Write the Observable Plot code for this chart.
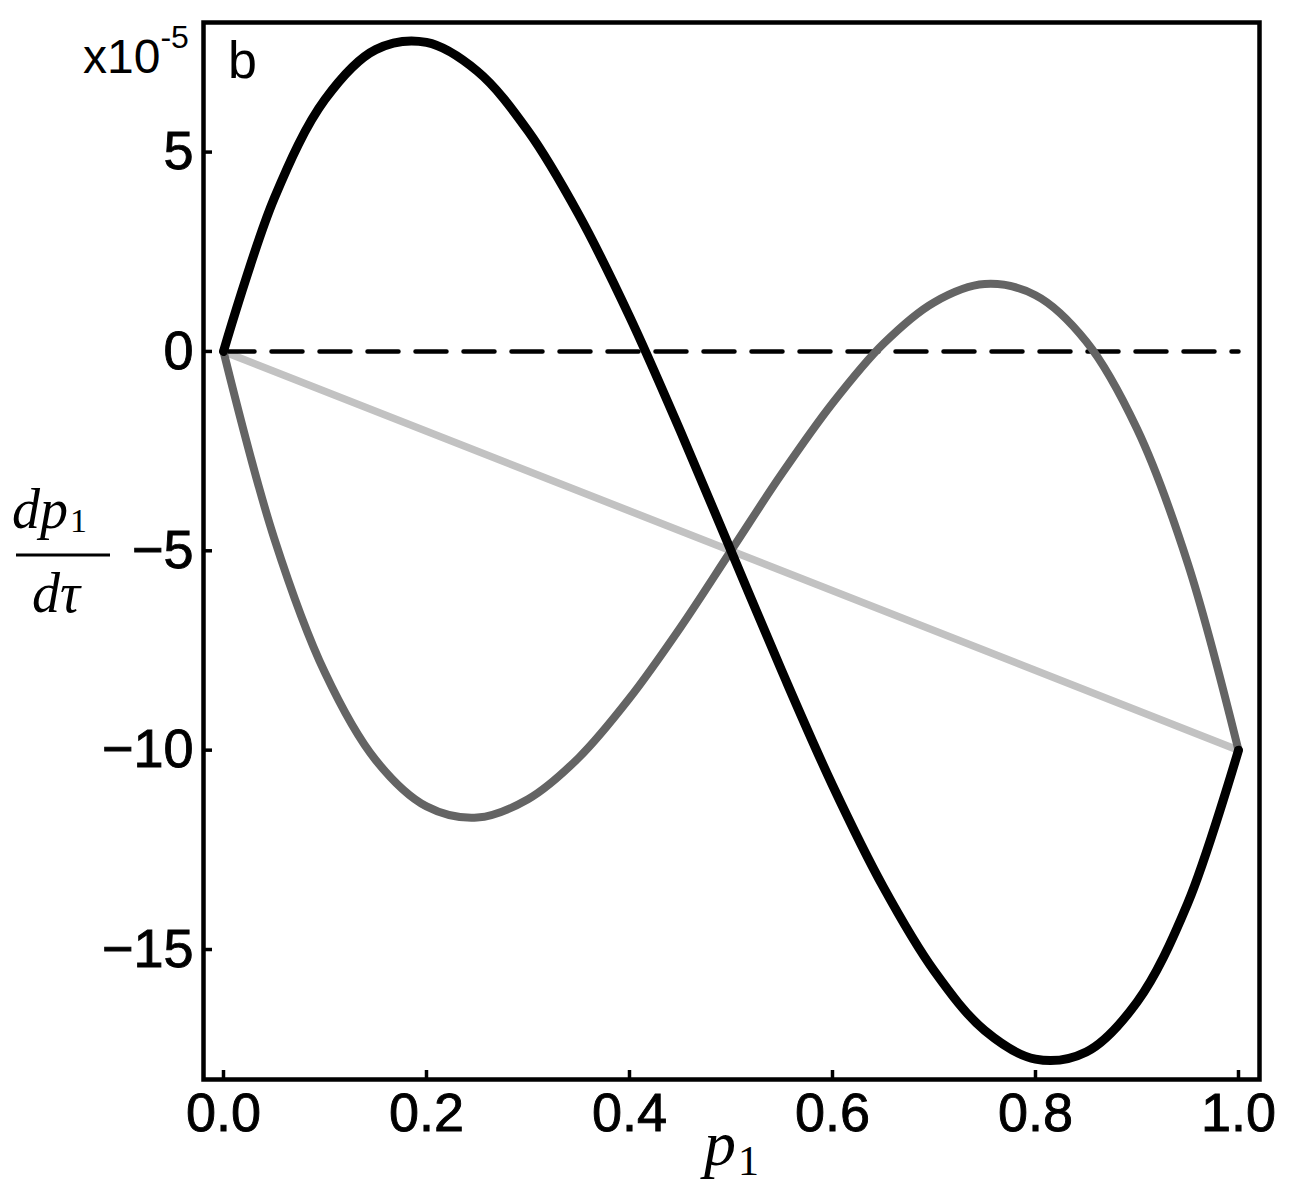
<!DOCTYPE html>
<html>
<head>
<meta charset="utf-8">
<script src="https://cdn.jsdelivr.net/npm/d3@7"></script>
<script src="https://cdn.jsdelivr.net/npm/@observablehq/plot@0.6"></script>
<style>
  html, body { margin: 0; padding: 0; background: #fff; }
  g[aria-label="x-axis tick label"] text,
  g[aria-label="y-axis tick label"] text { stroke: #000; stroke-width: 0.9px; }
</style>
</head>
<body>
<div id="chart"></div>
<script>
// ---- data ----
const pValues = [0, 0.05, 0.1, 0.15, 0.2, 0.25, 0.3, 0.35, 0.4, 0.45, 0.5,
                 0.55, 0.6, 0.65, 0.7, 0.75, 0.8, 0.85, 0.9, 0.95, 1.0];
const blackCurve = [0, 3.84, 6.32, 7.57, 7.75, 7.03, 5.53, 3.43, 0.88, -1.99, -5,
                    -8.01, -10.88, -13.43, -15.53, -17.03, -17.75, -17.57, -16.32, -13.84, -10];
const greyCurve = [0, -4.69, -8.06, -10.25, -11.41, -11.69, -11.23, -10.19, -8.70, -6.93, -5,
                   -3.07, -1.30, 0.19, 1.23, 1.69, 1.41, 0.25, -1.94, -5.31, -10];
const lightLineP = [0, 1];
const lightLine = [0, -10];
const zeroLineP = [0, 1];
const zeroLine = [0, 0];
const xTicks = [0, 0.2, 0.4, 0.6, 0.8, 1.0];
const yTicks = [5, 0, -5, -10, -15];

const toRows = (xs, ys) => xs.map((x, i) => ({x, y: ys[i]}));
const blackRows = toRows(pValues, blackCurve);
const greyRows = toRows(pValues, greyCurve);
const lightRows = toRows(lightLineP, lightLine);
const zeroRows = toRows(zeroLineP, zeroLine);

const W = 1291, H = 1200;
const mL = 203, mR = 32, mT = 22, mB = 121;
const innerW = W - mL - mR, innerH = H - mT - mB;

const chart = Plot.plot({
  width: W,
  height: H,
  marginLeft: mL,
  marginRight: mR,
  marginTop: mT,
  marginBottom: mB,
  style: {fontFamily: "'Liberation Sans', Arial, sans-serif", fontSize: "54px", background: "#fff", color: "#000"},
  x: {domain: [-0.0197, 1.0207]},
  y: {domain: [-18.26, 8.25]},
  marks: [
    Plot.line(lightRows, {x: "x", y: "y", stroke: "#c2c2c2", strokeWidth: 7.5}),
    Plot.line(zeroRows, {x: "x", y: "y", stroke: "#000", strokeWidth: 4.5, strokeDasharray: "31,17"}),
    Plot.line(greyRows, {x: "x", y: "y", stroke: "#646464", strokeWidth: 8, curve: "catmull-rom"}),
    Plot.line(blackRows, {x: "x", y: "y", stroke: "#000", strokeWidth: 9, curve: "catmull-rom"}),
    Plot.tickX(xTicks, {x: d => d, stroke: "#000", strokeWidth: 3.5, insetTop: innerH - 9}),
    Plot.tickY(yTicks, {y: d => d, stroke: "#000", strokeWidth: 3.5, insetRight: innerW - 9}),
    Plot.axisX({ticks: xTicks, tickSize: 0, tickPadding: 13, tickFormat: d3.format(".1f"), label: null}),
    Plot.axisY({ticks: yTicks, tickSize: 0, tickPadding: 10, label: null}),
    Plot.frame({stroke: "#000", strokeWidth: 4.5})
  ]
});
document.getElementById("chart").appendChild(chart);

// ---- annotations ----
const svg = d3.select(chart);
const serif = "'Liberation Serif', 'Times New Roman', serif";
const sans = "'Liberation Sans', Arial, sans-serif";

// multiplier x10^-5
const mult = svg.append("text").attr("x", 83).attr("y", 73)
  .attr("text-anchor", "start")
  .attr("font-family", sans).attr("fill", "#000");
mult.append("tspan").attr("font-size", 48).text("x10");
mult.append("tspan").attr("font-size", 32).attr("dy", -25).text("-5");

// panel letter
svg.append("text").attr("x", 228).attr("y", 78).attr("text-anchor", "start")
  .attr("font-family", sans).attr("font-size", 52).attr("fill", "#000").text("b");

// x axis label p1
const xl = svg.append("text").attr("x", 704).attr("y", 1165).attr("text-anchor", "start")
  .attr("font-family", serif).attr("fill", "#000");
xl.append("tspan").attr("font-size", 64).attr("font-style", "italic").text("p");
xl.append("tspan").attr("font-size", 42).attr("dy", 10).attr("dx", 2).text("1");

// y axis label dp1 / dtau
const num = svg.append("text").attr("x", 12).attr("y", 528).attr("text-anchor", "start")
  .attr("font-family", serif).attr("fill", "#000");
num.append("tspan").attr("font-size", 56).attr("font-style", "italic").text("dp");
num.append("tspan").attr("font-size", 34).attr("dy", 4).attr("dx", 2).text("1");

svg.append("line").attr("x1", 16).attr("x2", 110).attr("y1", 555).attr("y2", 555)
  .attr("stroke", "#000").attr("stroke-width", 3);

const den = svg.append("text").attr("x", 32).attr("y", 612).attr("text-anchor", "start")
  .attr("font-family", serif).attr("fill", "#000");
den.append("tspan").attr("font-size", 56).attr("font-style", "italic").text("dτ");
</script>
</body>
</html>
